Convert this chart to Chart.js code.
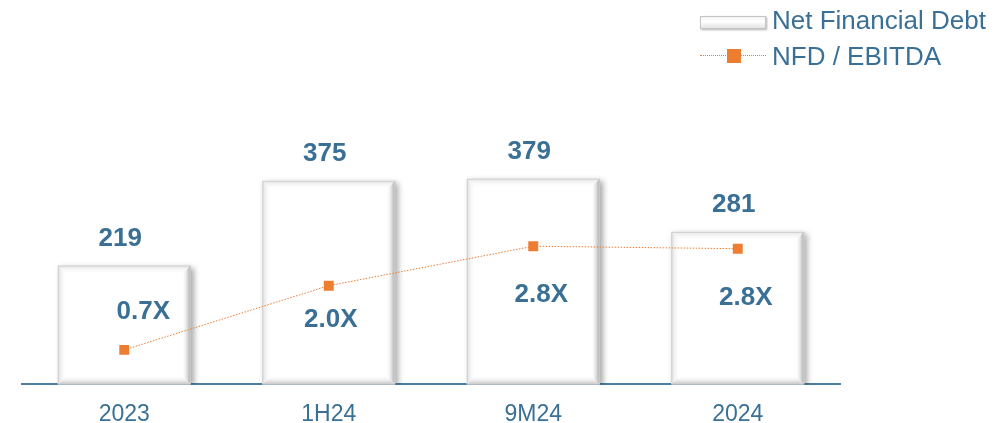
<!DOCTYPE html>
<html><head><meta charset="utf-8">
<script src="https://cdn.jsdelivr.net/npm/chart.js@4/dist/chart.umd.min.js"></script>
<style>
html,body{margin:0;padding:0;background:#fff;}
#wrap{position:relative;width:998px;height:423px;}
#legend{position:absolute;left:700px;top:0px;font-family:"Liberation Sans",Arial,sans-serif;font-size:26px;color:#3a7095;}
.li{display:flex;align-items:center;}
.sw{width:66px;height:14px;margin-right:6px;position:relative;}
</style></head>
<body><div id="wrap"><canvas id="c" width="998" height="423"></canvas>
<div id="legend">
<div class="li" style="height:40px"><div class="sw" style="background:linear-gradient(#f4f4f4,#fff 40%,#e4e4e4);border:1px solid #c4c4c4;box-shadow:1px 1px 2px rgba(0,0,0,0.3);height:11px;width:64px;margin-top:4px;"></div><span>Net Financial Debt</span></div>
<div class="li" style="height:32px"><div class="sw"><div style="position:absolute;left:0;right:0;top:6px;border-top:1px dotted #ed7d31;"></div><div style="position:absolute;left:27px;top:0;width:14px;height:14px;background:#ed7d31;"></div></div><span>NFD / EBITDA</span></div>
</div></div>
<script>
const categories = ["2023", "1H24", "9M24", "2024"];
const netFinancialDebt = [219, 375, 379, 281];
const nfdEbitda = [0.7, 2.0, 2.8, 2.75];

const TEXT = '#3a7095';
const FONT = '"Liberation Sans", Arial, sans-serif';

const bevelPlugin = {
  id: 'bevel',
  beforeDatasetDraw(chart, args) {
    if (args.index !== 0) return;
    const ctx = chart.ctx;
    ctx.save();
    ctx.shadowColor = 'rgba(0,0,0,0.35)';
    ctx.shadowBlur = 6;
    ctx.shadowOffsetX = 3;
    ctx.shadowOffsetY = 2;
  },
  afterDatasetDraw(chart, args) {
    if (args.index !== 0) return;
    const ctx = chart.ctx;
    ctx.restore();
    const meta = chart.getDatasetMeta(0);
    meta.data.forEach(bar => {
      const l = bar.x - bar.width / 2, r = bar.x + bar.width / 2, t = bar.y, b = bar.base;
      if (![l, r, t, b].every(Number.isFinite)) return;
      const e = 9;
      ctx.save();
      let g = ctx.createLinearGradient(0, t, 0, t + e);
      g.addColorStop(0, '#e2e2e2'); g.addColorStop(1, 'rgba(255,255,255,0)');
      ctx.fillStyle = g;
      ctx.beginPath(); ctx.moveTo(l, t); ctx.lineTo(r, t); ctx.lineTo(r - e, t + e); ctx.lineTo(l + e, t + e); ctx.closePath(); ctx.fill();
      g = ctx.createLinearGradient(l, 0, l + e, 0);
      g.addColorStop(0, '#dcdcdc'); g.addColorStop(1, 'rgba(255,255,255,0)');
      ctx.fillStyle = g;
      ctx.beginPath(); ctx.moveTo(l, t); ctx.lineTo(l + e, t + e); ctx.lineTo(l + e, b - e); ctx.lineTo(l, b); ctx.closePath(); ctx.fill();
      g = ctx.createLinearGradient(r - e, 0, r, 0);
      g.addColorStop(0, 'rgba(255,255,255,0)'); g.addColorStop(1, '#a0a0a0');
      ctx.fillStyle = g;
      ctx.beginPath(); ctx.moveTo(r, t); ctx.lineTo(r, b); ctx.lineTo(r - e, b - e); ctx.lineTo(r - e, t + e); ctx.closePath(); ctx.fill();
      g = ctx.createLinearGradient(0, b - e, 0, b);
      g.addColorStop(0, 'rgba(255,255,255,0)'); g.addColorStop(1, '#c0c0c0');
      ctx.fillStyle = g;
      ctx.beginPath(); ctx.moveTo(l, b); ctx.lineTo(r, b); ctx.lineTo(r - e, b - e); ctx.lineTo(l + e, b - e); ctx.closePath(); ctx.fill();
      ctx.strokeStyle = '#d0d0d0'; ctx.lineWidth = 1;
      ctx.strokeRect(l + 0.5, t + 0.5, bar.width - 1, b - t - 1);
      ctx.restore();
    });
  }
};

const labelPlugin = {
  id: 'labels',
  afterDatasetsDraw(chart) {
    const ctx = chart.ctx;
    ctx.save();
    ctx.fillStyle = TEXT;
    ctx.font = 'bold 26px ' + FONT;
    ctx.textAlign = 'center';
    ctx.textBaseline = 'middle';
    chart.getDatasetMeta(0).data.forEach((bar, i) => {
      ctx.fillText(String(netFinancialDebt[i]), bar.x - 4, bar.y - 27);
    });
    const off = [[19, -38], [2, 34], [8, 49], [8, 49]];
    chart.getDatasetMeta(1).data.forEach((pt, i) => {
      ctx.fillText(nfdEbitda[i].toFixed(1) + 'X', pt.x + off[i][0], pt.y + off[i][1]);
    });
    ctx.restore();
  }
};

new Chart(document.getElementById('c'), {
  data: {
    labels: categories,
    datasets: [
      {
        type: 'bar', label: 'Net Financial Debt', data: netFinancialDebt, yAxisID: 'y', order: 1,
        backgroundColor: '#ffffff', borderWidth: 0,
        categoryPercentage: 1, barPercentage: 0.65
      },
      {
        type: 'line', label: 'NFD / EBITDA', data: nfdEbitda, yAxisID: 'y1', order: 0,
        borderColor: '#ed7d31', borderWidth: 1, borderDash: [1.5, 1.5],
        pointStyle: 'rect', pointRadius: 7, pointBackgroundColor: '#ed7d31', pointBorderWidth: 0,
        tension: 0
      }
    ]
  },
  options: {
    responsive: false, animation: false,
    layout: { padding: { left: 22, right: 158, top: 113, bottom: -21 } },
    plugins: { legend: { display: false }, tooltip: { enabled: false } },
    scales: {
      x: {
        grid: { display: false, drawTicks: false },
        border: { display: true, color: '#4a7fa3', width: 2 },
        ticks: { color: TEXT, font: { family: FONT, size: 23 }, padding: 16 }
      },
      y: { display: false, min: 0, max: 500 },
      y1: { display: false, min: 0, max: 5.5 }
    }
  },
  plugins: [bevelPlugin, labelPlugin]
});
</script></body></html>
